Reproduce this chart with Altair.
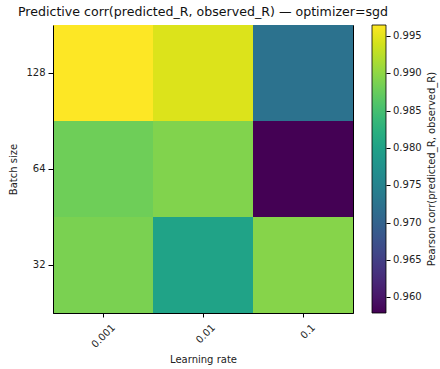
import altair as alt
import pandas as pd

learning_rates = ["0.001", "0.01", "0.1"]
batch_sizes = ["128", "64", "32"]
# rows: batch size 128, 64, 32 ; cols: lr 0.001, 0.01, 0.1
values = [
    [0.9965, 0.9945, 0.9723],
    [0.9880, 0.9892, 0.9579],
    [0.9888, 0.9802, 0.9895],
]
legend_ticks = [0.960, 0.965, 0.970, 0.975, 0.980, 0.985, 0.990, 0.995]
cbar_domain = [0.9579, 0.9965]
cbar_label = "Pearson corr(predicted_R, observed_R)"

rows = []
for i, b in enumerate(batch_sizes):
    for j, lr in enumerate(learning_rates):
        rows.append({"lr": lr, "bs": b, "corr": values[i][j]})
df = pd.DataFrame(rows)

FONT = "DejaVu Sans"

heat = alt.Chart(df).mark_rect().encode(
    x=alt.X("lr:O", sort=learning_rates, title="Learning rate",
            axis=alt.Axis(labelAngle=-45, labelAlign="right", labelBaseline="top",
                          labelOffset=7, labelPadding=5, tickSize=4, titlePadding=5)),
    y=alt.Y("bs:O", sort=batch_sizes, title="Batch size",
            axis=alt.Axis(labelAngle=0, tickSize=5, labelPadding=3, titlePadding=7)),
    color=alt.Color("corr:Q",
                    scale=alt.Scale(scheme="viridis", domain=cbar_domain),
                    legend=alt.Legend(title=None, orient="none", legendX=319, legendY=0,
                                      gradientLength=288, gradientThickness=14,
                                      gradientStrokeColor="black", gradientStrokeWidth=0.8,
                                      values=legend_ticks, format=".3f",
                                      labelFontSize=10, labelFont=FONT, labelColor="#222",
                                      labelOffset=7, padding=0,
                                      direction="vertical")),
)

ticks = alt.Chart(pd.DataFrame({"v": legend_ticks})).mark_point(opacity=0).encode(
    y=alt.Y("v:Q", scale=alt.Scale(domain=cbar_domain, nice=False, zero=False),
            axis=alt.Axis(orient="right", offset=33, labels=False, domain=False,
                          tickSize=4, values=legend_ticks, title=None, grid=False))
)

label = alt.Chart(pd.DataFrame({"t": [cbar_label]})).mark_text(
    angle=270, font=FONT, fontSize=10, color="#222", baseline="middle", align="center"
).encode(text="t:N", x=alt.value(379), y=alt.value(144))

chart = alt.layer(heat, ticks, label).resolve_scale(y="independent").resolve_axis(
    y="independent"
).properties(
    width=300, height=288,
    title=alt.TitleParams("Predictive corr(predicted_R, observed_R) — optimizer=sgd",
                          fontSize=12.6, font=FONT, fontWeight="normal", anchor="middle",
                          offset=6, color="#111"),
    autosize=alt.AutoSizeParams(type="none"),
    padding={"left": 53, "top": 25, "right": 87, "bottom": 56},
).configure_view(
    stroke="black", strokeWidth=1
).configure_axis(
    labelFont=FONT, titleFont=FONT, labelFontSize=10, titleFontSize=10,
    titleFontWeight="normal", domainColor="black", tickColor="black",
    labelColor="#222", titleColor="#222", grid=False
).configure_scale(bandPaddingInner=0, bandPaddingOuter=0)

chart.save("out.html", embed_options={"renderer": "svg", "actions": False})
